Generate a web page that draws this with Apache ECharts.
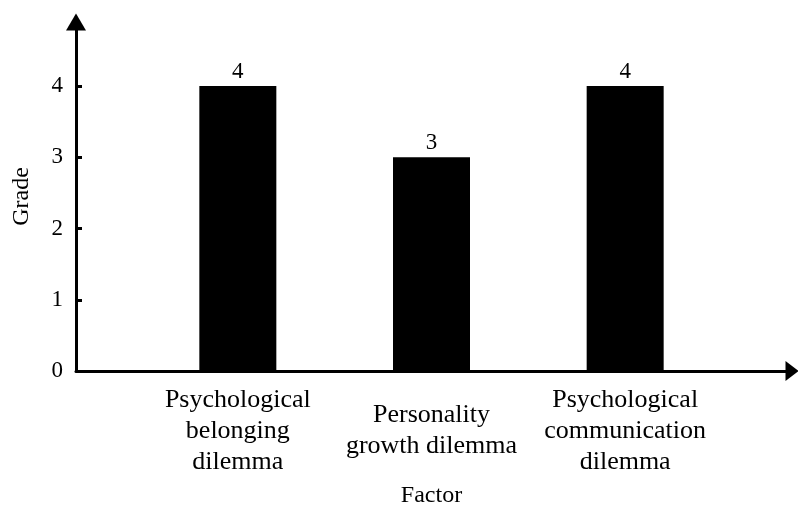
<!DOCTYPE html>
<html>
<head>
<meta charset="utf-8">
<script src="https://cdn.jsdelivr.net/npm/echarts@6/dist/echarts.min.js"></script>
<style>
  html, body { margin: 0; padding: 0; background: #fff; }
  #chart { width: 798px; height: 506px; }
</style>
</head>
<body>
<div id="chart"></div>
<script>
// Factors and their grades
const categories = [
  'Psychological\nbelonging\ndilemma',
  'Personality\ngrowth dilemma',
  'Psychological\ncommunication\ndilemma'
];
const grades = [4, 3, 4];
const yTicks = [0, 1, 2, 3, 4];
const yMax = 4.9;

const serif = '"Liberation Serif", "Times New Roman", serif';
const chart = echarts.init(document.getElementById('chart'));

chart.setOption({
  backgroundColor: '#fff',
  animation: false,
  grid: [
    // grid 0: bars and category labels
    { left: 141, right: 76, top: 22, bottom: 135, outerBoundsMode: 'none', containLabel: false },
    // grid 1: the arrowed axes with ticks
    { left: 76, right: 6, top: 22, bottom: 135, outerBoundsMode: 'none', containLabel: false }
  ],
  xAxis: [
    {
      gridIndex: 0,
      type: 'category',
      data: categories,
      axisLine: { show: false },
      axisTick: { show: false },
      axisLabel: {
        interval: 0,
        fontFamily: serif,
        fontSize: 26,
        lineHeight: 31,
        color: '#000',
        verticalAlign: 'middle',
        margin: 60
      },
      name: 'Factor',
      nameLocation: 'middle',
      nameGap: 113,
      nameTextStyle: { fontFamily: serif, fontSize: 24, color: '#000' }
    },
    {
      gridIndex: 1,
      type: 'value',
      min: 0,
      max: 1,
      axisLine: {
        show: true,
        symbol: ['none', 'triangle'],
        symbolSize: [20, 13],
        lineStyle: { color: '#000', width: 3 }
      },
      axisTick: { show: false },
      axisLabel: { show: false },
      splitLine: { show: false }
    }
  ],
  yAxis: [
    {
      gridIndex: 0,
      type: 'value',
      min: 0,
      max: yMax,
      show: false,
      splitLine: { show: false }
    },
    {
      gridIndex: 1,
      type: 'value',
      min: 0,
      max: yMax,
      interval: 1,
      axisLine: {
        show: true,
        symbol: ['none', 'triangle'],
        symbolSize: [20, 17],
        lineStyle: { color: '#000', width: 3 }
      },
      axisTick: {
        show: true,
        inside: true,
        length: 6,
        customValues: yTicks,
        lineStyle: { color: '#000', width: 3 }
      },
      axisLabel: {
        customValues: yTicks,
        fontFamily: serif,
        fontSize: 23,
        color: '#000',
        margin: 13
      },
      splitLine: { show: false },
      name: 'Grade',
      nameLocation: 'middle',
      nameGap: 42,
      nameTextStyle: { fontFamily: serif, fontSize: 24, color: '#000' }
    }
  ],
  series: [
    {
      type: 'bar',
      xAxisIndex: 0,
      yAxisIndex: 0,
      data: grades,
      barWidth: 77,
      itemStyle: { color: '#000' },
      label: {
        show: true,
        position: 'top',
        distance: 3,
        fontFamily: serif,
        fontSize: 23,
        color: '#000'
      }
    }
  ]
});
</script>
</body>
</html>
